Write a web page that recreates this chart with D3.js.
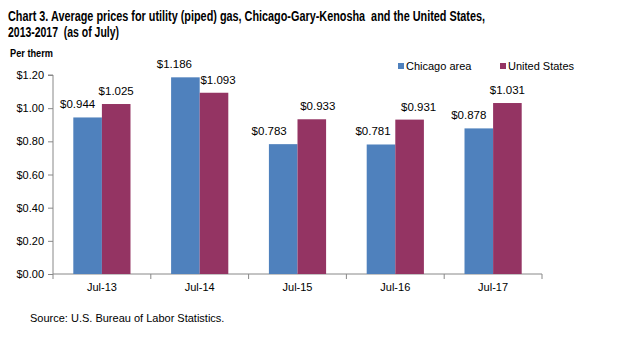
<!DOCTYPE html>
<html>
<head>
<meta charset="utf-8">
<script src="https://cdn.jsdelivr.net/npm/d3@7"></script>
<style>
  body { margin: 0; background: #fff; }
  svg text { fill: #000; font-family: "Liberation Sans", Arial, sans-serif; }
</style>
</head>
<body>
<svg id="chart" width="638" height="338"></svg>
<script>
// chart data
const years = ["Jul-13", "Jul-14", "Jul-15", "Jul-16", "Jul-17"];
const chicago = [0.944, 1.186, 0.783, 0.781, 0.878];
const unitedStates = [1.025, 1.093, 0.933, 0.931, 1.031];
const seriesNames = ["Chicago area", "United States"];
const yTicks = [0, 0.2, 0.4, 0.6, 0.8, 1.0, 1.2];

// label nudges (px), as placed in the original
const labelNudge = [[-10, -11, -14, -8, -10], [0, 4, 6, 9, 0]];

const colors = ["#4F81BD", "#943463"];
const svg = d3.select("#chart");

const plotLeft = 53, plotRight = 542, plotTop = 75, plotBottom = 274;

const xScale = d3.scaleBand().domain(years).range([plotLeft, plotRight]);
const inner = d3.scaleBand().domain(seriesNames).range([0, xScale.bandwidth()]).paddingInner(0).paddingOuter(0.71);
const yScale = d3.scaleLinear().domain([0, 1.2]).range([plotBottom, plotTop]);

// title (narrow font emulated with textLength)
svg.append("text")
  .attr("x", 8).attr("y", 21)
  .attr("textLength", 477).attr("lengthAdjust", "spacingAndGlyphs")
  .style("font-size", "14px").style("font-weight", "bold").style("white-space", "pre")
  .text("Chart 3. Average prices for utility (piped) gas, Chicago-Gary-Kenosha  and the United States,");
svg.append("text")
  .attr("x", 8).attr("y", 37)
  .attr("textLength", 111).attr("lengthAdjust", "spacingAndGlyphs")
  .style("font-size", "14px").style("font-weight", "bold").style("white-space", "pre")
  .text("2013-2017  (as of July)");

svg.append("text")
  .attr("x", 10).attr("y", 57)
  .attr("textLength", 43).attr("lengthAdjust", "spacingAndGlyphs")
  .style("font-size", "11px").style("font-weight", "bold")
  .text("Per therm");

// y axis
const yAxis = d3.axisLeft(yScale).tickValues(yTicks).tickSize(5).tickPadding(4)
  .tickFormat(d => "$" + d3.format(".2f")(d));
const gy = svg.append("g").attr("transform", `translate(${plotLeft},0)`).call(yAxis);
gy.select(".domain").attr("stroke", "#888").attr("d", `M-5,${plotTop}H0V${plotBottom}`);
gy.selectAll(".tick line").attr("stroke", "#888");
gy.selectAll("text").style("font-family", "Liberation Sans, Arial, sans-serif").style("font-size", "11px").attr("fill", "#000");

// x axis
const gx = svg.append("g").attr("transform", `translate(0,${plotBottom})`);
gx.append("line").attr("x1", plotLeft).attr("x2", plotRight).attr("y1", 0).attr("y2", 0).attr("stroke", "#888");
const bounds = years.map(y => xScale(y)).concat([plotRight]);
gx.selectAll(".xtick").data(bounds).enter().append("line")
  .attr("x1", d => d).attr("x2", d => d).attr("y1", 0).attr("y2", 5).attr("stroke", "#888");
gx.selectAll(".xlab").data(years).enter().append("text")
  .attr("x", d => xScale(d) + xScale.bandwidth() / 2).attr("y", 17)
  .attr("text-anchor", "middle")
  .style("font-size", "11px")
  .text(d => d);

// bars
const seriesData = [chicago, unitedStates];
seriesData.forEach((vals, s) => {
  const g = svg.append("g");
  g.selectAll("rect").data(vals).enter().append("rect")
    .attr("x", (d, i) => xScale(years[i]) + inner(seriesNames[s]))
    .attr("y", d => yScale(d))
    .attr("width", inner.bandwidth())
    .attr("height", d => plotBottom - yScale(d))
    .attr("fill", colors[s]);
  g.selectAll("text").data(vals).enter().append("text")
    .attr("x", (d, i) => xScale(years[i]) + inner(seriesNames[s]) + inner.bandwidth() / 2 + labelNudge[s][i])
    .attr("y", d => yScale(d) - 9)
    .attr("text-anchor", "middle")
    .style("font-size", "11.5px")
    .attr("fill", "#222")
    .text(d => "$" + d3.format(".3f")(d));
});

// legend
const legendX = [398, 500];
seriesNames.forEach((name, s) => {
  svg.append("rect").attr("x", legendX[s]).attr("y", 63).attr("width", 6).attr("height", 6).attr("fill", colors[s]);
  svg.append("text").attr("x", legendX[s] + 8).attr("y", 70)
    .style("font-size", "11px")
    .text(name);
});

// source
svg.append("text")
  .attr("x", 30).attr("y", 322)
  .style("font-size", "11px")
  .text("Source: U.S. Bureau of Labor Statistics.");
</script>
</body>
</html>
